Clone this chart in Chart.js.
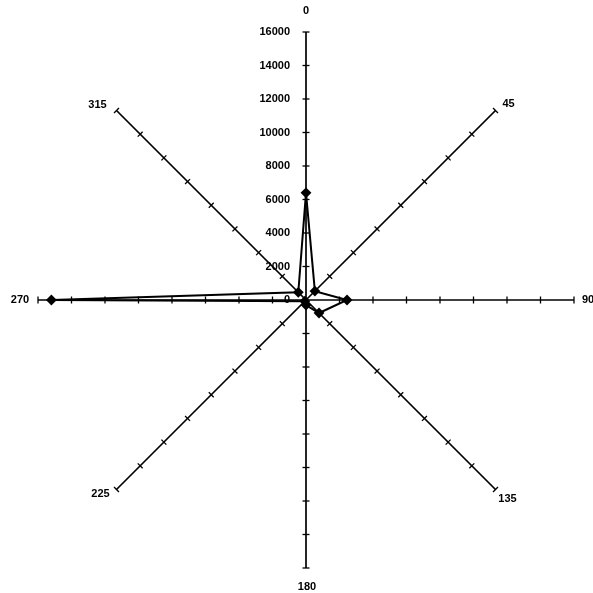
<!DOCTYPE html>
<html>
<head>
<meta charset="utf-8">
<script src="https://cdn.jsdelivr.net/npm/chart.js@4/dist/chart.umd.min.js"></script>
<style>
  html, body { margin: 0; padding: 0; background: #fff; }
  #wrap { width: 593px; height: 593px; }
</style>
</head>
<body>
<div id="wrap"><canvas id="radar" width="593" height="593"></canvas></div>
<script>
// direction labels (degrees) and the reading for each direction
const directions = ["0", "45", "90", "135", "180", "225", "270", "315"];
const readings = [6400, 750, 2450, 1100, 300, 100, 15200, 650];
// scale ticks along the spokes
const tickValues = [0, 2000, 4000, 6000, 8000, 10000, 12000, 14000, 16000];

const FONT = "bold 11px 'Liberation Sans', Arial, sans-serif";
// nudges for the direction labels, relative to the spoke ends
const labelNudge = [[0, -21], [13, -7], [14, 0], [12, 9], [1, 19], [-16, 4], [-18, 0], [-19, -6]];

// draws the cross ticks on every spoke, the value labels on the vertical spoke
// and the direction labels past the spoke ends
const spokeDecor = {
  id: "spokeDecor",
  afterDatasetsDraw(chart) {
    const scale = chart.scales.r;
    const ctx = chart.ctx;
    ctx.save();
    ctx.strokeStyle = "#000";
    ctx.lineWidth = 1.3;
    for (let i = 0; i < directions.length; i++) {
      const ang = scale.getIndexAngle(i) - Math.PI / 2;
      const px = -Math.sin(ang), py = Math.cos(ang);
      tickValues.forEach((v) => {
        if (v === 0) return;
        const p = scale.getPointPositionForValue(i, v);
        ctx.beginPath();
        ctx.moveTo(p.x - px * 3.5, p.y - py * 3.5);
        ctx.lineTo(p.x + px * 3.5, p.y + py * 3.5);
        ctx.stroke();
      });
    }
    // value labels on the left of the 0 spoke
    ctx.fillStyle = "#000";
    ctx.font = FONT;
    ctx.textAlign = "right";
    ctx.textBaseline = "middle";
    tickValues.forEach((v) => {
      const p = scale.getPointPositionForValue(0, v);
      ctx.fillText(String(v), p.x - 16, p.y);
    });
    // direction labels
    ctx.textAlign = "center";
    for (let i = 0; i < directions.length; i++) {
      const end = scale.getPointPositionForValue(i, 16000);
      ctx.fillText(directions[i], end.x + labelNudge[i][0], end.y + labelNudge[i][1]);
    }
    ctx.restore();
  }
};

new Chart(document.getElementById("radar"), {
  type: "radar",
  data: {
    labels: directions,
    datasets: [{
      data: readings,
      borderColor: "#000",
      borderWidth: 2,
      fill: false,
      pointStyle: "rectRot",
      pointRadius: 4,
      pointBackgroundColor: "#000",
      pointBorderColor: "#000",
      tension: 0
    }]
  },
  options: {
    responsive: false,
    animation: false,
    layout: { padding: { left: 38, right: 19, top: 32, bottom: 25 } },
    plugins: { legend: { display: false }, tooltip: { enabled: false } },
    scales: {
      r: {
        min: 0,
        max: 16000,
        ticks: { display: false, stepSize: 2000 },
        grid: { display: false },
        angleLines: { display: true, color: "#000", lineWidth: 1.7 },
        pointLabels: { display: false }
      }
    }
  },
  plugins: [spokeDecor]
});
</script>
</body>
</html>
